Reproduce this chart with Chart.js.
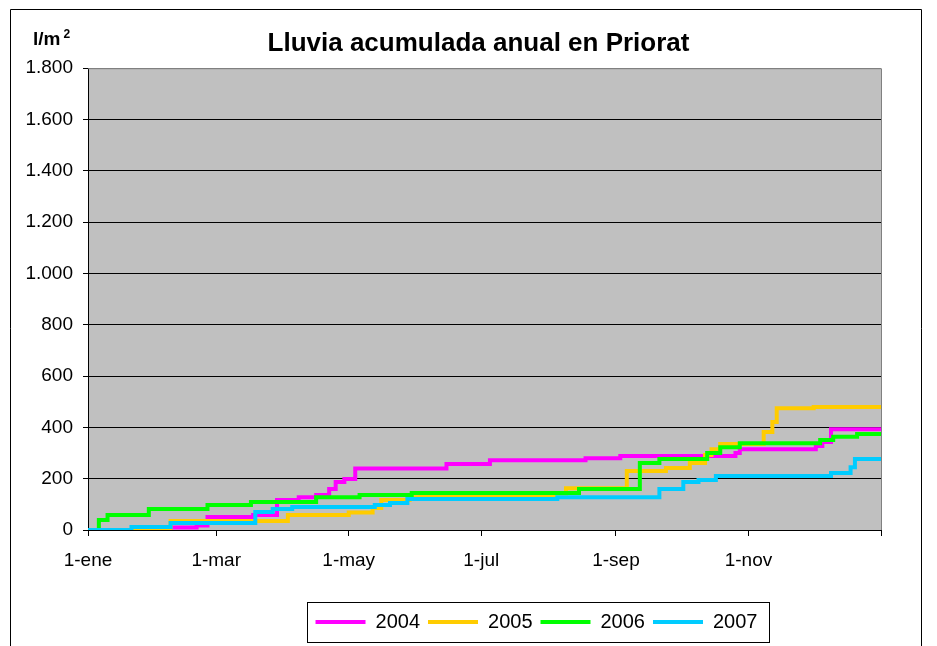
<!DOCTYPE html>
<html>
<head>
<meta charset="utf-8">
<script src="https://cdn.jsdelivr.net/npm/chart.js@4/dist/chart.umd.min.js"></script>
<style>
  html, body { margin: 0; padding: 0; background: #fff; }
</style>
</head>
<body>
<canvas id="rainChart" width="937" height="646"></canvas>
<script>
// day of year (0 = 1 Jan) where the accumulated total changes, and the new total in l/m2
const days2004 = [0, 38, 50, 55, 76, 87, 97, 105, 111, 114, 118, 123, 165, 185, 229, 245, 298, 300, 335, 338, 342, 365];
const rain2004 = [0, 10, 18, 51, 58, 117, 128, 136, 160, 187, 199, 240, 257, 272, 280, 288, 300, 315, 327, 343, 393, 393];

const days2005 = [0, 38, 92, 120, 131, 135, 148, 153, 220, 248, 266, 277, 284, 287, 291, 311, 315, 317, 334, 365];
const rain2005 = [0, 35, 58, 68, 86, 117, 128, 134, 163, 230, 242, 261, 292, 315, 335, 382, 421, 475, 479, 479];

const days2006 = [0, 5, 9, 28, 55, 75, 105, 125, 149, 226, 254, 263, 285, 291, 300, 337, 343, 354, 365];
const rain2006 = [0, 39, 58, 82, 97, 109, 128, 136, 144, 160, 261, 277, 300, 323, 338, 351, 363, 374, 378];

const days2007 = [0, 20, 38, 77, 85, 94, 132, 139, 147, 216, 263, 274, 281, 289, 342, 351, 353, 365];
const rain2007 = [0, 12, 27, 70, 82, 90, 97, 105, 121, 128, 160, 187, 195, 210, 222, 245, 277, 277];

const years = ['2004', '2005', '2006', '2007'];
const colors = ['#ff00ff', '#ffcc00', '#00ff00', '#00ccff'];

const tickDays = [0, 59, 120, 181, 243, 304, 365];
const tickLabels = ['1-ene', '1-mar', '1-may', '1-jul', '1-sep', '1-nov', ''];

const FONT = 'Arial, "Liberation Sans", sans-serif';

function points(days, rain) {
    return days.map((d, i) => ({ x: d, y: rain[i] }));
}
const series = [
    points(days2004, rain2004),
    points(days2005, rain2005),
    points(days2006, rain2006),
    points(days2007, rain2007)
];

// plot background, borders, unit label and legend frame
const decor = {
    id: 'decor',
    afterLayout(chart) {
        chart.legend.left += 91;
        chart.legend.right += 91;
        chart.titleBlock.left += 33;
        chart.titleBlock.right += 33;
    },
    beforeDraw(chart) {
        const { ctx, chartArea: a } = chart;
        ctx.save();
        ctx.fillStyle = '#c0c0c0';
        ctx.fillRect(a.left, a.top, a.right - a.left, a.bottom - a.top);
        ctx.restore();
    },
    beforeDatasetsDraw(chart) {
        const { ctx, chartArea: a } = chart;
        ctx.save();
        ctx.strokeStyle = '#808080';
        ctx.lineWidth = 1;
        ctx.beginPath();
        ctx.moveTo(a.left, a.top + 0.5);
        ctx.lineTo(a.right + 0.5, a.top + 0.5);
        ctx.lineTo(a.right + 0.5, a.bottom);
        ctx.stroke();
        ctx.restore();
    },
    afterDraw(chart) {
        const ctx = chart.ctx;
        ctx.save();
        // outer frame
        ctx.strokeStyle = '#000';
        ctx.lineWidth = 1;
        ctx.beginPath();
        ctx.moveTo(10.5, 660);
        ctx.lineTo(10.5, 9.5);
        ctx.lineTo(921.5, 9.5);
        ctx.lineTo(921.5, 660);
        ctx.stroke();
        // unit
        ctx.fillStyle = '#000';
        ctx.textBaseline = 'alphabetic';
        ctx.font = 'bold 19px ' + FONT;
        ctx.fillText('l/m', 33, 45);
        const w = ctx.measureText('l/m').width;
        ctx.font = 'bold 12px ' + FONT;
        ctx.fillText('2', 33 + w + 3, 38);
        // legend box
        const hb = chart.legend.legendHitBoxes;
        if (hb && hb.length) {
            const l = Math.min(...hb.map(b => b.left)) - 9;
            const r = Math.max(...hb.map(b => b.left + b.width)) + 11;
            const t = hb[0].top - 10;
            const b = hb[0].top + hb[0].height + 10;
            ctx.strokeStyle = '#000';
            ctx.strokeRect(Math.round(l) + 0.5, Math.round(t) + 0.5, Math.round(r - l), Math.round(b - t));
        }
        ctx.restore();
    }
};

const ctx = document.getElementById('rainChart').getContext('2d');
new Chart(ctx, {
    type: 'line',
    data: {
        datasets: years.map((y, i) => ({
            label: y,
            data: series[i],
            borderColor: colors[i],
            backgroundColor: colors[i],
            borderWidth: 4,
            stepped: true,
            pointRadius: 0,
            fill: false,
            order: 3 - i
        }))
    },
    options: {
        responsive: false,
        animation: false,
        layout: { padding: { left: 10, right: 56, top: 1, bottom: 4 } },
        plugins: {
            title: {
                display: true,
                text: 'Lluvia acumulada anual en Priorat',
                color: '#000',
                font: { family: FONT, size: 26, weight: 'bold' },
                padding: { top: 27, bottom: 9 }
            },
            legend: {
                position: 'bottom',
                labels: {
                    color: '#000',
                    font: { family: FONT, size: 20 },
                    usePointStyle: true,
                    pointStyle: 'line',
                    pointStyleWidth: 50,
                    padding: 8,
                    sort: (a, b) => a.datasetIndex - b.datasetIndex
                }
            },
            tooltip: { enabled: false }
        },
        scales: {
            x: {
                type: 'linear',
                min: 0,
                max: 365,
                afterBuildTicks: scale => {
                    scale.ticks = tickDays.map(v => ({ value: v }));
                },
                afterFit: scale => { scale.height = 74; },
                ticks: {
                    autoSkip: false,
                    maxRotation: 0,
                    color: '#000',
                    padding: 13,
                    font: { family: FONT, size: 19 },
                    callback: v => tickLabels[tickDays.indexOf(v)] ?? ''
                },
                grid: {
                    drawOnChartArea: false,
                    tickLength: 6,
                    tickColor: '#000'
                },
                border: { color: '#000', width: 1 }
            },
            y: {
                min: 0,
                max: 1800,
                afterFit: scale => { scale.width = 78; },
                ticks: {
                    stepSize: 200,
                    color: '#000',
                    padding: 10,
                    font: { family: FONT, size: 19 },
                    callback: v => String(v).replace(/\B(?=(\d{3})+(?!\d))/g, '.')
                },
                grid: {
                    color: c => (c.tick && c.tick.value === 1800) ? '#808080' : '#000',
                    tickColor: '#000',
                    tickLength: 5
                },
                border: { color: '#000', width: 1 }
            }
        }
    },
    plugins: [decor]
});
</script>
</body>
</html>
